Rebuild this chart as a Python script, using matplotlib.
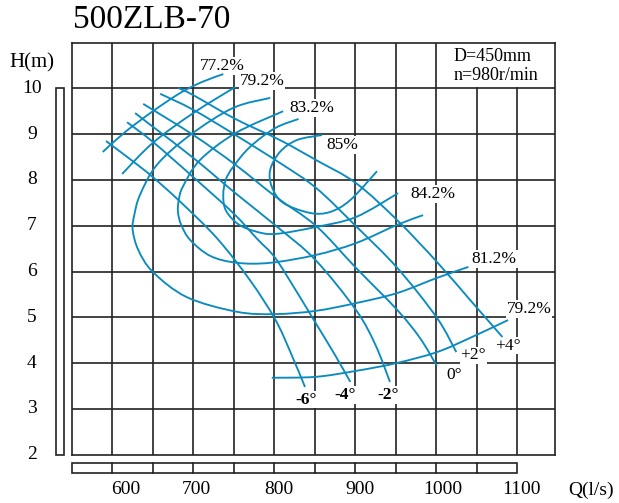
import matplotlib.pyplot as plt
from matplotlib.patches import Rectangle, PathPatch
from matplotlib.path import Path

plt.rcParams['font.family'] = ['Liberation Serif', 'DejaVu Serif']

TITLE = "500ZLB-70"
Q_TICKS = [600, 700, 800, 900, 1000, 1100]
H_TICKS = [2, 3, 4, 5, 6, 7, 8, 9, 10]

# blade angle H-Q curves, Q in l/s, H in m
ANGLE_LABELS = ["-6°", "-4°", "-2°", "0°", "+2°", "+4°"]
Q_M6 = [592, 628, 650, 684, 729, 770, 801, 820, 838]
H_M6 = [8.85, 8.37, 8.06, 7.52, 6.73, 5.81, 4.96, 4.24, 3.48]
Q_M4 = [618, 650, 700, 749, 779, 801, 828, 851, 875, 894]
H_M4 = [9.26, 8.83, 8.06, 7.28, 6.71, 6.30, 5.55, 4.88, 4.18, 3.59]
Q_M2 = [628, 650, 700, 752, 804, 851, 901, 925, 943]
H_M2 = [9.46, 9.16, 8.48, 7.71, 6.97, 6.25, 5.16, 4.40, 3.59]
Q_00 = [638, 700, 752, 802, 852, 901, 952, 980, 1001]
H_00 = [9.66, 8.98, 8.33, 7.63, 6.99, 6.08, 5.16, 4.55, 3.94]
Q_P2 = [659, 700, 752, 807, 852, 901, 952, 1001, 1025]
H_P2 = [9.88, 9.53, 8.98, 8.37, 7.82, 6.99, 6.08, 4.99, 4.24]
Q_P4 = [681, 700, 752, 807, 852, 901, 952, 1001, 1042, 1082]
H_P4 = [10.01, 9.85, 9.33, 8.87, 8.43, 7.93, 7.12, 6.21, 5.38, 4.57]

# iso-efficiency curves
Q_E772 = [588, 616, 650, 684, 711, 737]
H_E772 = [8.61, 9.05, 9.50, 9.90, 10.14, 10.31]
Q_E792_UP = [612, 650, 700, 752]
H_E792_UP = [8.13, 8.81, 9.46, 10.03]
Q_E792_LO = [797, 851, 901, 951, 1001, 1042, 1089]
H_E792_LO = [3.68, 3.70, 3.83, 4.00, 4.24, 4.55, 4.94]
Q_E812 = [795, 749, 696, 655, 634, 627, 625, 632, 650, 692, 754, 801, 851, 901, 952, 1001, 1040]
H_E812 = [9.79, 9.57, 8.98, 8.33, 7.67, 7.23, 6.91, 6.47, 5.99, 5.44, 5.12, 5.07, 5.14, 5.31, 5.53, 5.86, 6.10]
Q_E832 = [811, 752, 708, 687, 682, 681, 685, 696, 721, 754, 795, 851, 901, 952, 984]
H_E832 = [9.50, 9.02, 8.43, 7.85, 7.56, 7.30, 7.02, 6.69, 6.34, 6.19, 6.19, 6.36, 6.62, 7.02, 7.23]
Q_E842 = [830, 801, 770, 749, 740, 737, 740, 755, 776, 801, 851, 901, 953]
H_E842 = [9.33, 9.13, 8.72, 8.28, 8.00, 7.67, 7.34, 7.04, 6.88, 6.82, 6.97, 7.19, 7.71]
Q_E85 = [859, 828, 807, 795, 797, 811, 844, 869, 894, 927]
H_E85 = [8.98, 8.87, 8.61, 8.22, 7.85, 7.50, 7.28, 7.30, 7.56, 8.19]

BLUE = "#0a8bc0"
GRID = "#222222"
LW_GRID = 1.2


def smooth(q, h):
    # Catmull-Rom through the read points, drawn as cubic Bezier segments
    pts = list(zip(q, h))
    n = len(pts)
    verts = [pts[0]]
    codes = [Path.MOVETO]
    for i in range(n - 1):
        p0 = pts[i - 1] if i > 0 else pts[i]
        p1, p2 = pts[i], pts[i + 1]
        p3 = pts[i + 2] if i + 2 < n else pts[i + 1]
        c1 = (p1[0] + (p2[0] - p0[0]) / 6, p1[1] + (p2[1] - p0[1]) / 6)
        c2 = (p2[0] - (p3[0] - p1[0]) / 6, p2[1] - (p3[1] - p1[1]) / 6)
        verts += [c1, c2, p2]
        codes += [Path.CURVE4] * 3
    return Path(verts, codes)


fig = plt.figure(figsize=(6.19, 5.03), dpi=100)
ax = fig.add_axes([0.1163, 0.0960, 0.7803, 0.8195])
ax.set_xlim(550, 1147)
ax.set_ylim(2, 11)
ax.set_xticks([])
ax.set_yticks([])
for sp in ax.spines.values():
    sp.set_color(GRID)
    sp.set_linewidth(LW_GRID)

# grid (top row right part is merged into the speed box)
for q in range(600, 1101, 50):
    top = 11 if q <= 1000 else 10
    ax.plot([q, q], [2, top], color=GRID, lw=LW_GRID, zorder=1)
for h in range(3, 11):
    ax.plot([550, 1147], [h, h], color=GRID, lw=LW_GRID, zorder=1)

curves = [(Q_M6, H_M6), (Q_M4, H_M4), (Q_M2, H_M2),
          (Q_00, H_00), (Q_P2, H_P2), (Q_P4, H_P4),
          (Q_E772, H_E772), (Q_E792_UP, H_E792_UP), (Q_E792_LO, H_E792_LO),
          (Q_E812, H_E812), (Q_E832, H_E832), (Q_E842, H_E842), (Q_E85, H_E85)]
for q, h in curves:
    ax.add_patch(PathPatch(smooth(q, h), fill=False, ec=BLUE, lw=1.35,
                           zorder=3, capstyle="butt"))

box = dict(facecolor="white", edgecolor="none", pad=0.5)
lab = dict(fontsize=12.5, ha="center", va="center", zorder=2, bbox=box,
           clip_on=False)
ax.text(736, 10.49, "77.2%", **lab)
ax.text(785, 10.16, "79.2%", **lab)
ax.text(847, 9.57, "83.2%", **lab)
ax.text(884, 8.76, "85%", **lab)
ax.text(996, 7.69, "84.2%", **lab)
ax.text(1072, 6.27, "81.2%", **lab)
ax.text(1115, 5.18, "79.2%", **lab)

ang_pos = [(839, 3.20), (888, 3.30), (941, 3.30), (1022, 3.73), (1046, 4.17), (1089, 4.38)]
for (x, y), t in zip(ang_pos, ANGLE_LABELS):
    w = "bold" if t.startswith("-") else "normal"
    ax.text(x, y, t, fontweight=w, **lab)

ax.text(1022, 10.70, "D=450mm", fontsize=13, ha="left", va="center")
ax.text(1022, 10.27, "n=980r/min", fontsize=13, ha="left", va="center")

# axis labels (printed a little right of their grid lines, as in the original)
tick = dict(fontsize=14, ha="center", va="center", clip_on=False)
q_lab_pos = [617, 704, 806, 906, 1008, 1105]
for q, x in zip(Q_TICKS, q_lab_pos):
    ax.text(x, 1.23, str(q), **tick)
ax.text(1191, 1.23, "Q(l/s)", **tick)
for h in H_TICKS:
    ax.text(500.5, h, str(h), **tick)
ax.text(500.5, 10.55, "H(m)", fontsize=15, ha="center", va="center", clip_on=False)

# side rulers
ax.add_patch(Rectangle((530.2, 2), 9.9, 8, fill=False, ec=GRID, lw=LW_GRID, clip_on=False))
ax.add_patch(Rectangle((550, 1.60), 550, 0.218, fill=False, ec=GRID, lw=LW_GRID, clip_on=False))
for q in range(600, 1100, 50):
    ax.plot([q, q], [1.60, 1.818], color=GRID, lw=LW_GRID, clip_on=False)

fig.text(73 / 619, 1 - 20 / 503, TITLE, fontsize=24, ha="left", va="center")

fig.savefig("out.png", dpi=100, facecolor="white")
